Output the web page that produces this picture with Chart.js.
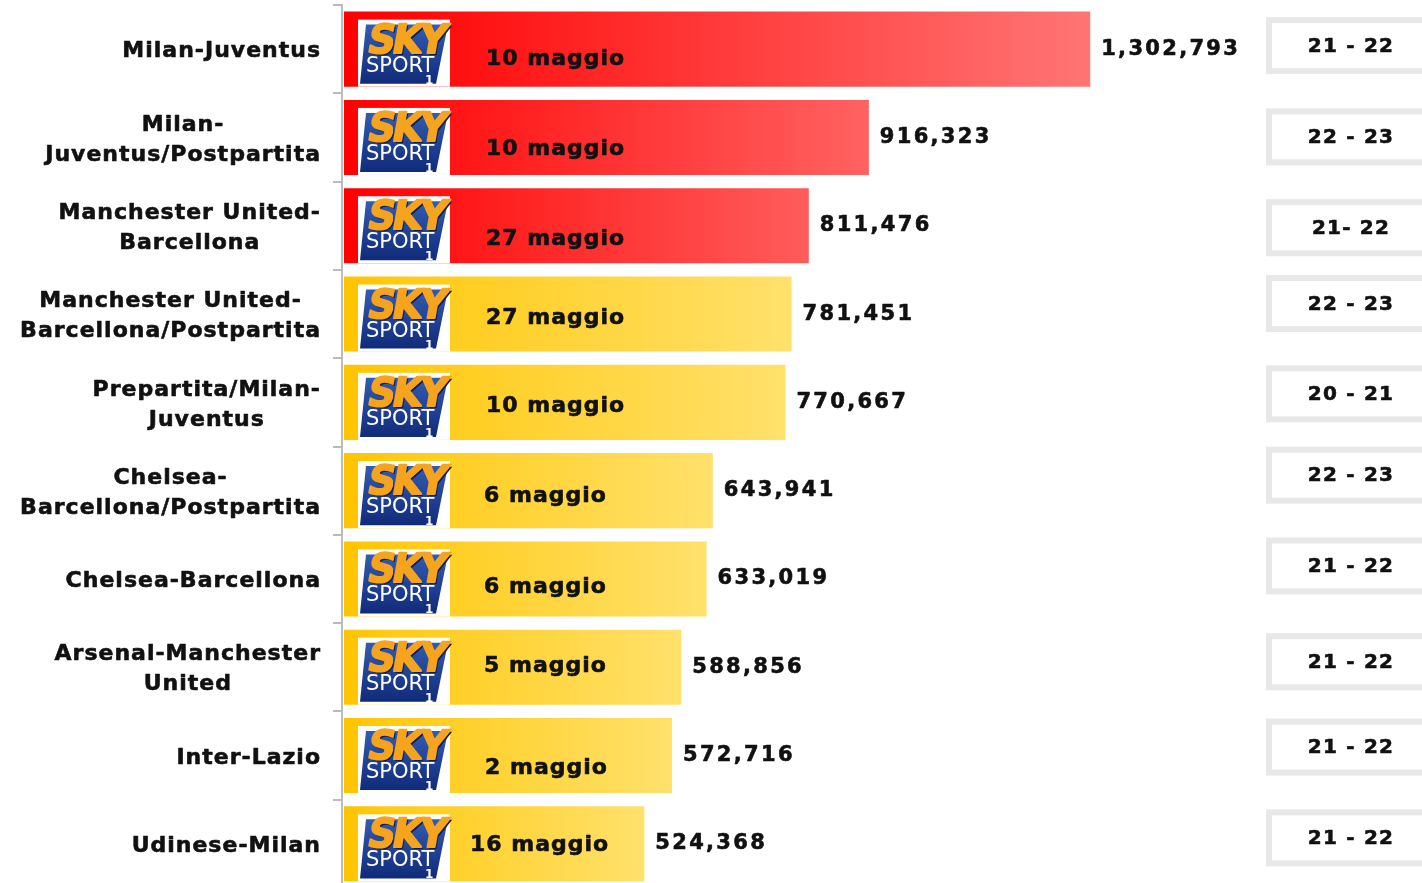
<!DOCTYPE html>
<html><head><meta charset="utf-8">
<script src="https://cdn.jsdelivr.net/npm/chart.js@4.4.0/dist/chart.umd.min.js"></script>
<style>
html,body{margin:0;padding:0;background:#fff;overflow:hidden;}
#wrap{position:relative;width:1422px;height:888px;}
</style></head><body>
<div id="wrap"><canvas id="c"></canvas></div>
<script>
// ---- data ----
const categories = [
  ["Milan-Juventus"],
  ["Milan-", "Juventus/Postpartita"],
  ["Manchester United-", "Barcellona"],
  ["Manchester United-", "Barcellona/Postpartita"],
  ["Prepartita/Milan-", "Juventus"],
  ["Chelsea-", "Barcellona/Postpartita"],
  ["Chelsea-Barcellona"],
  ["Arsenal-Manchester", "United"],
  ["Inter-Lazio"],
  ["Udinese-Milan"]
];
const viewers = [1302793, 916323, 811476, 781451, 770667, 643941, 633019, 588856, 572716, 524368];
const airDates = ["10 maggio", "10 maggio", "27 maggio", "27 maggio", "10 maggio", "6 maggio", "6 maggio", "5 maggio", "2 maggio", "16 maggio"];
const timeSlots = ["21 - 22", "22 - 23", "21- 22", "22 - 23", "20 - 21", "22 - 23", "21 - 22", "21 - 22", "21 - 22", "21 - 22"];
const group = ["top", "top", "top", "other", "other", "other", "other", "other", "other", "other"];

// ---- drawing helpers ----
const FONT = '"DejaVu Sans", Verdana, sans-serif';
const dateNudge = [[0,10],[0,12],[0,14],[0,4],[0,4],[-2,6],[-2,8],[-2,-1],[-1,13],[-16,1]];
const boxNudge = [-3.5,-0.5,2,-10.5,-8.5,-15.5,-13,-5.5,-8.5,-6];

function heavyText(ctx, t, x, y) {
  ctx.fillText(t, x, y);
  ctx.strokeText(t, x, y);
}

function drawLogo(ctx, wx, wy, ww, wh) {
  ctx.save();
  ctx.letterSpacing = '0px';
  ctx.fillStyle = '#fff';
  ctx.fillRect(wx, wy, ww, wh);
  const g = ctx.createLinearGradient(0, wy, 0, wy + wh);
  g.addColorStop(0, '#3460b8');
  g.addColorStop(1, '#0f2877');
  ctx.fillStyle = g;
  ctx.beginPath();
  ctx.moveTo(wx + 8, wy + 5);
  ctx.lineTo(wx + 90, wy + 5);
  ctx.lineTo(wx + 78, wy + wh - 3);
  ctx.lineTo(wx + 2, wy + wh - 3);
  ctx.closePath();
  ctx.fill();
  ctx.textAlign = 'left';
  ctx.textBaseline = 'alphabetic';
  ctx.save();
  ctx.translate(wx + 8, wy + 33);
  ctx.transform(1, 0, -0.18, 1, 0, 0);
  ctx.font = 'bold 40px ' + FONT;
  ctx.letterSpacing = '-3px';
  ctx.fillStyle = '#0a1d58';
  ctx.fillText('SKY', 2, 2, 76);
  ctx.fillStyle = '#f6a31e';
  ctx.strokeStyle = '#f6a31e';
  ctx.lineWidth = 2;
  ctx.fillText('SKY', 0, 0, 76);
  ctx.strokeText('SKY', 0, 0, 76);
  ctx.restore();
  ctx.font = '21px ' + FONT;
  ctx.fillStyle = '#fff';
  ctx.fillText('SPORT', wx + 8, wy + 52, 71);
  ctx.font = 'bold 12px ' + FONT;
  ctx.fillText('1', wx + 67, wy + 64);
  ctx.restore();
}

const overlay = {
  id: 'overlay',
  afterDatasetsDraw(chart) {
    const ctx = chart.ctx;
    const yScale = chart.scales.y;
    const meta = chart.getDatasetMeta(0);
    ctx.save();
    ctx.strokeStyle = '#111';
    ctx.lineWidth = 0.6;
    ctx.lineJoin = 'round';
    // category labels
    ctx.font = 'bold 22px ' + FONT;
    ctx.letterSpacing = '1px';
    ctx.fillStyle = '#111';
    ctx.textAlign = 'center';
    ctx.textBaseline = 'middle';
    const labelRight = yScale.right - 22 + 1;
    categories.forEach((lines, i) => {
      const yc = yScale.getPixelForValue(i) + 2.5;
      const bw = Math.max(...lines.map(l => ctx.measureText(l).width));
      const cx = labelRight - bw / 2;
      lines.forEach((l, k) => heavyText(ctx, l, cx, yc + (k - (lines.length - 1) / 2) * 30));
    });
    // bars: logos, dates, values
    meta.data.forEach((bar, i) => {
      const p = bar.getProps(['x', 'y', 'base', 'height'], true);
      const top = p.y - p.height / 2;
      drawLogo(ctx, p.base + 14, top + 8, 92, p.height - 8);
      ctx.font = 'bold 22px ' + FONT;
      ctx.letterSpacing = '1px';
      ctx.fillStyle = '#111';
      ctx.textAlign = 'left';
      ctx.textBaseline = 'middle';
      heavyText(ctx, airDates[i], p.base + 142 + dateNudge[i][0], p.y + dateNudge[i][1]);
      ctx.font = 'bold 21px ' + FONT;
      ctx.letterSpacing = '2.3px';
      heavyText(ctx, viewers[i].toLocaleString('en-US'), p.x + 11, p.y);
    });
    // time slot boxes
    const bx = chart.width - 156;
    ctx.font = 'bold 20px ' + FONT;
    ctx.letterSpacing = '1.2px';
    ctx.textAlign = 'center';
    ctx.textBaseline = 'middle';
    timeSlots.forEach((t, i) => {
      const yc = yScale.getPixelForValue(i) + boxNudge[i];
      ctx.fillStyle = '#e8e8e8';
      ctx.fillRect(bx, yc - 28.5, 168, 57);
      ctx.fillStyle = '#fff';
      ctx.fillRect(bx + 6, yc - 22.5, 156, 45);
      ctx.fillStyle = '#111';
      heavyText(ctx, t, bx + 85, yc + 1);
    });
    ctx.restore();
  }
};

function barColor(c) {
  const chart = c.chart;
  const i = c.dataIndex;
  if (!chart.chartArea || !chart.scales.x || i === undefined) return '#ffcc00';
  const xs = chart.scales.x;
  const x0 = xs.getPixelForValue(0);
  const x1 = xs.getPixelForValue(viewers[i]);
  const g = chart.ctx.createLinearGradient(x0, 0, x1, 0);
  if (group[i] === 'top') {
    const frac = (x1 - x0) / (xs.getPixelForValue(Math.max(...viewers)) - x0);
    const v = Math.round(117 * Math.sqrt(frac));
    g.addColorStop(0, '#ff0000');
    g.addColorStop(0.1, '#ff0a0a');
    g.addColorStop(1, 'rgb(255,' + v + ',' + v + ')');
  } else {
    g.addColorStop(0, '#ffc400');
    g.addColorStop(0.15, '#ffcb16');
    g.addColorStop(1, '#ffe16c');
  }
  return g;
}

new Chart(document.getElementById('c'), {
  type: 'bar',
  data: {
    labels: categories,
    datasets: [{
      data: viewers,
      backgroundColor: barColor,
      borderWidth: 0,
      barPercentage: 0.85,
      categoryPercentage: 1
    }]
  },
  options: {
    indexAxis: 'y',
    responsive: true,
    maintainAspectRatio: false,
    animation: false,
    layout: { padding: { top: 5, right: 47, bottom: 0, left: 0 } },
    plugins: { legend: { display: false }, tooltip: { enabled: false } },
    scales: {
      x: { display: false, min: -3500, max: 1800000 },
      y: {
        afterFit(scale) { scale.width = 342; },
        border: { display: true, color: '#bdbdbd', width: 2 },
        grid: { display: true, drawOnChartArea: false, drawTicks: true, tickLength: 9, color: '#bbbbbb', lineWidth: 2, offset: true },
        ticks: { display: false }
      }
    }
  },
  plugins: [overlay]
});
</script>
</body></html>
